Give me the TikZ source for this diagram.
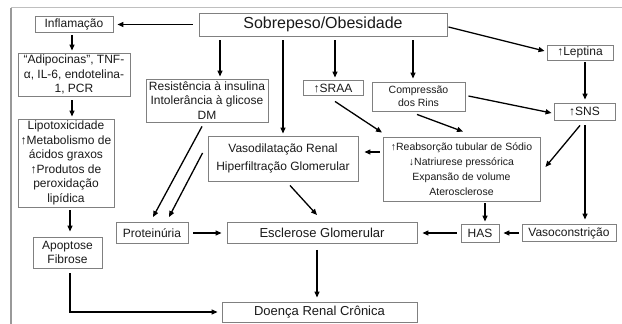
\documentclass[tikz,border=0pt]{standalone}
\usepackage{fontspec}
\setmainfont{Liberation Sans}
\usetikzlibrary{arrows.meta}
\definecolor{boxgray}{HTML}{808080}
\definecolor{txt}{HTML}{1A1A1A}
\tikzset{
  box/.style={draw=boxgray, line width=0.9pt, fill=white, text=txt, inner sep=0pt, align=center,
    font=\fontsize{12}{14.5}\selectfont},
  arr/.style={draw=black, line width=1.3pt, -{Triangle[length=6pt,width=5pt]}},
}
\begin{document}
\begin{tikzpicture}[x=1pt,y=-1pt]
\useasboundingbox (0,0) rectangle (622,324);
\fill[white] (0,0) rectangle (622,324);
\draw[gray!50, line width=1.8pt] (11,7.5) -- (622,7.5);
\draw[gray!80, line width=1.2pt] (11,7.5) -- (11,324);

\node[box, minimum width=248pt, minimum height=23pt, font=\fontsize{16}{18}\selectfont] (sob) at (323,24.5) {Sobrepeso/Obesidade};
\node[box, minimum width=78pt, minimum height=16pt] (infl) at (74,24.5) {Inflamação};
\node[box, minimum width=112pt, minimum height=43pt] (adipo) at (74,74.5) {“Adipocinas”, TNF-\\α, IL-6, endotelina-\\1, PCR};
\node[box, minimum width=96pt, minimum height=88pt] (lipo) at (66,163) {Lipotoxicidade\\↑Metabolismo de\\ácidos graxos\\↑Produtos de\\peroxidação\\lipídica};
\node[box, minimum width=69pt, minimum height=31pt] (apop) at (67.5,252.5) {Apoptose\\Fibrose};
\node[box, minimum width=122pt, minimum height=43pt] (resis) at (207,100.5) {Resistência à insulina\\Intolerância à glicose\\DM};
\node[box, minimum width=150pt, minimum height=45pt, font=\fontsize{12}{18}\selectfont] (vaso) at (283,158.5) {Vasodilatação Renal\\Hiperfiltração Glomerular};
\node[box, minimum width=60pt, minimum height=15pt] (sraa) at (333,88) {↑SRAA};
\node[box, minimum width=93pt, minimum height=29pt, font=\fontsize{10.5}{13}\selectfont] (comp) at (418.5,96.5) {Compressão\\dos Rins};
\node[box, minimum width=66pt, minimum height=15pt] (lept) at (580,52.5) {↑Leptina};
\node[box, minimum width=61pt, minimum height=17pt] (sns) at (584.5,111.5) {↑SNS};
\node[box, minimum width=157pt, minimum height=64pt, font=\fontsize{10.5}{15}\selectfont] (reab) at (461.5,169) {↑Reabsorção tubular de Sódio\\↓Natriurese pressórica\\Expansão de volume\\Aterosclerose};
\node[box, minimum width=72pt, minimum height=21pt] (prot) at (152,233) {Proteinúria};
\node[box, minimum width=190pt, minimum height=21pt, font=\fontsize{13}{15}\selectfont] (escl) at (322,233) {Esclerose Glomerular};
\node[box, minimum width=38pt, minimum height=18pt] (has) at (480,233) {HAS};
\node[box, minimum width=94pt, minimum height=17pt] (vasoc) at (569,233) {Vasoconstrição};
\node[box, minimum width=195pt, minimum height=20pt, font=\fontsize{13}{15}\selectfont] (doenca) at (319.5,312) {Doença Renal Crônica};

% connectors
\draw[arr] ([shift={(-6,0)}]sob.west) -- ([shift={(4,0)}]infl.east);
\draw[arr] ([shift={(-2,2)}]infl.south) -- ([shift={(-2,-2)}]adipo.north);
\draw[arr] ([shift={(-2,4)}]adipo.south) -- ([shift={(6,-2)}]lipo.north);
\draw[arr] ([shift={(4,3)}]lipo.south) -- ([shift={(2.5,-5)}]apop.north);
\draw[arr] ([shift={(2.5,5)}]apop.south) |- ([shift={(-4,0)}]doenca.west);
\draw[arr] ([shift={(-103,4)}]sob.south) -- ([shift={(13,-2)}]resis.north);
\draw[arr] ([shift={(-40,4)}]sob.south) -- ([shift={(0,-2)}]vaso.north);
\draw[arr] ([shift={(12,4)}]sob.south) -- ([shift={(2,-2.5)}]sraa.north);
\draw[arr] ([shift={(90,4)}]sob.south) -- ([shift={(-5.5,-3)}]comp.north);
\draw[arr] ([shift={(1,2.5)}]sob.east) -- ([shift={(-2,-1.5)}]lept.west);
\draw[arr] ([shift={(5,2)}]lept.south) -- ([shift={(0.5,-3)}]sns.north);
\draw[arr] ([shift={(3,-0.5)}]comp.east) -- ([shift={(-2,1.5)}]sns.west);
\draw[arr] ([shift={(2,5.5)}]sraa.south) -- ([shift={(-79.5,-4)}]reab.north);
\draw[arr] ([shift={(-1.5,3)}]comp.south) -- ([shift={(1.5,-5)}]reab.north);
\draw[arr] ([shift={(-4.5,5)}]sns.south) -- ([shift={(5,-2)}]reab.east);
\draw[arr] ([shift={(0.5,5)}]sns.south) -- ([shift={(16,-4.5)}]vasoc.north);
\draw[arr] ([shift={(-3,-17)}]reab.west) -- ([shift={(6,-6.5)}]vaso.east);
\draw[arr] ([shift={(-5,4)}]resis.south) -- ([shift={(1,-5)}]prot.north);
\draw[arr] ([shift={(-5,-5.5)}]vaso.west) -- ([shift={(17,-5)}]prot.north);
\draw[arr] ([shift={(7,4)}]vaso.south) -- ([shift={(-5,-7)}]escl.north);
\draw[arr] ([shift={(5,0)}]prot.east) -- ([shift={(-5,0)}]escl.west);
\draw[arr] ([shift={(-4,0)}]has.west) -- ([shift={(5,0)}]escl.east);
\draw[arr] ([shift={(-3,0)}]vasoc.west) -- ([shift={(4,0)}]has.east);
\draw[arr] ([shift={(23.5,2)}]reab.south) -- ([shift={(5,-2)}]has.north);
\draw[arr] ([shift={(-5,6)}]escl.south) -- ([shift={(-2.5,-4)}]doenca.north);
\end{tikzpicture}
\end{document}
